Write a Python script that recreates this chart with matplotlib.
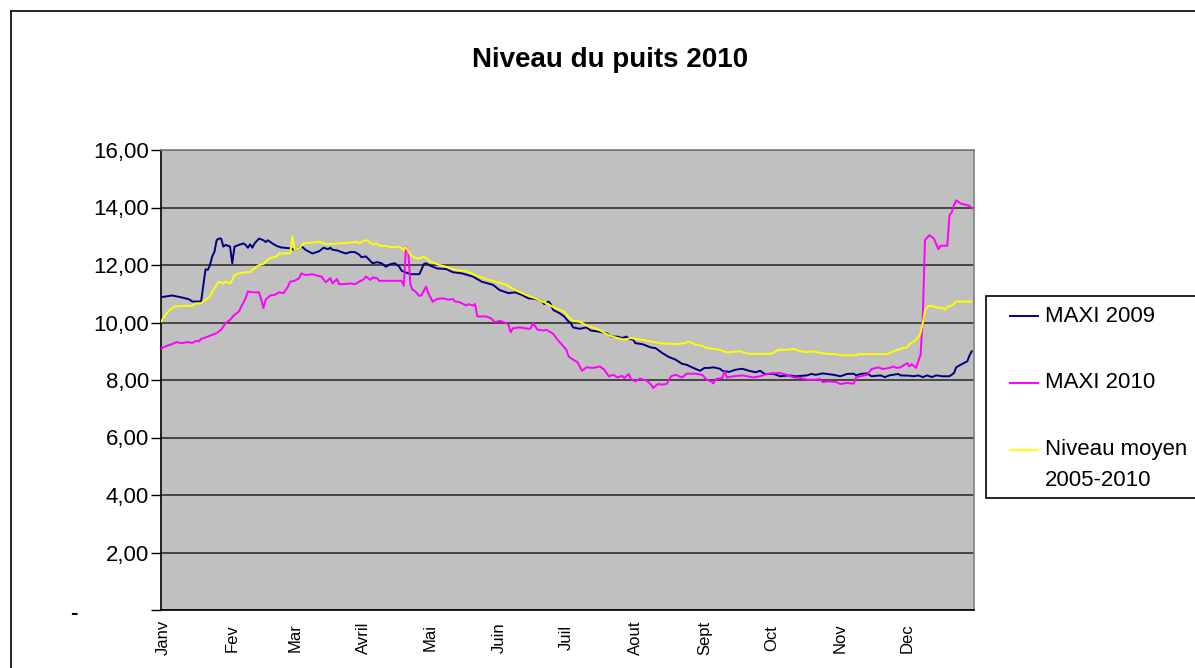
import matplotlib
matplotlib.use("Agg")
import matplotlib.pyplot as plt
from matplotlib.lines import Line2D
from matplotlib.patches import Rectangle
from matplotlib.transforms import blended_transform_factory
from matplotlib import font_manager

plt.rcParams['font.family'] = ['Liberation Sans', 'DejaVu Sans']
_names = {f.name for f in font_manager.fontManager.ttflist}
narrow = ['Liberation Sans Narrow', 'Liberation Sans'] if 'Liberation Sans Narrow' in _names else ['Liberation Sans']
narrow_ok = 'Liberation Sans Narrow' in _names

title = "Niveau du puits 2010"
month_labels = ["Janv", "Fev", "Mar", "Avril", "Mai", "Juin", "Juil", "Aout", "Sept", "Oct", "Nov", "Dec"]
month_days = [1, 32, 60, 91, 121, 152, 182, 213, 244, 274, 305, 335]
y_ticks = [0, 2, 4, 6, 8, 10, 12, 14, 16]
y_tick_labels = ["", "2,00", "4,00", "6,00", "8,00", "10,00", "12,00", "14,00", "16,00"]

series_names = ["MAXI 2009", "MAXI 2010", "Niveau moyen\n2005-2010"]

maxi2009_days = [0, 5, 10, 12, 13, 14, 18, 20, 21, 22, 23, 24, 25, 26, 27, 28, 29, 31, 32, 33, 35, 37, 38, 39, 40,
                 41, 42, 44, 46, 47, 48, 50, 52, 54, 58, 60, 62, 63, 65, 68, 71, 73, 75, 76, 77, 79, 81, 83, 85, 87,
                 89, 90, 92, 94, 95, 97, 99, 101, 103, 105, 107, 108, 110, 112, 116, 118, 119, 121, 124, 128, 131,
                 135, 140, 144, 149, 152, 156, 159, 162, 165, 168, 171, 172, 174, 175, 176, 179, 181, 183, 184, 185,
                 188, 191, 193, 196, 200, 202, 205, 207, 209, 210, 212, 213, 216, 220, 222, 225, 228, 231, 234, 236,
                 239, 242, 244, 246, 248, 251, 252, 255, 258, 261, 264, 267, 269, 271, 275, 278, 282, 285, 290, 292,
                 294, 297, 302, 305, 308, 311, 312, 314, 317, 319, 323, 325, 327, 331, 332, 336, 338, 340, 342, 344,
                 346, 348, 351, 354, 356, 357, 359, 362, 363, 364]
maxi2009_vals = [10.88, 10.94, 10.86, 10.82, 10.79, 10.73, 10.73, 11.85, 11.83, 12.00, 12.30, 12.46, 12.87, 12.92,
                 12.92, 12.64, 12.70, 12.64, 12.06, 12.64, 12.70, 12.75, 12.70, 12.60, 12.72, 12.60, 12.75, 12.92,
                 12.86, 12.80, 12.86, 12.75, 12.66, 12.61, 12.58, 12.52, 12.58, 12.66, 12.52, 12.40, 12.48, 12.60,
                 12.55, 12.60, 12.53, 12.51, 12.45, 12.40, 12.45, 12.45, 12.36, 12.27, 12.30, 12.14, 12.06, 12.10,
                 12.06, 11.94, 12.03, 12.06, 11.94, 11.80, 11.74, 11.68, 11.68, 12.03, 12.06, 11.97, 11.88, 11.86,
                 11.75, 11.71, 11.60, 11.42, 11.31, 11.13, 11.02, 11.05, 10.96, 10.84, 10.82, 10.75, 10.64, 10.73,
                 10.64, 10.44, 10.32, 10.21, 10.03, 9.98, 9.83, 9.78, 9.83, 9.72, 9.69, 9.63, 9.51, 9.51, 9.46,
                 9.51, 9.43, 9.40, 9.28, 9.25, 9.13, 9.11, 8.94, 8.80, 8.71, 8.56, 8.53, 8.42, 8.32, 8.42, 8.42,
                 8.44, 8.39, 8.32, 8.28, 8.36, 8.39, 8.32, 8.27, 8.32, 8.21, 8.21, 8.13, 8.16, 8.13, 8.16, 8.21,
                 8.18, 8.23, 8.18, 8.13, 8.21, 8.22, 8.16, 8.21, 8.23, 8.13, 8.16, 8.10, 8.16, 8.21, 8.16, 8.15,
                 8.13, 8.16, 8.10, 8.16, 8.10, 8.16, 8.13, 8.13, 8.24, 8.44, 8.53, 8.65, 8.86, 9.00]

maxi2010_days = [0, 2, 5, 7, 9, 12, 14, 16, 17, 18, 20, 23, 25, 27, 29, 31, 33, 35, 36, 38, 39, 41, 44, 45, 46,
                 47, 49, 51, 53, 55, 56, 57, 58, 60, 62, 63, 65, 68, 70, 72, 74, 76, 77, 79, 80, 83, 85, 87, 89,
                 91, 92, 94, 95, 97, 98, 108, 109, 110, 111, 112, 113, 114, 116, 117, 119, 120, 122, 124, 127, 129,
                 131, 132, 134, 137, 138, 140, 141, 142, 144, 146, 148, 150, 152, 155, 156, 157, 158, 161, 165, 166,
                 167, 169, 172, 173, 176, 178, 180, 182, 183, 184, 185, 187, 189, 191, 194, 197, 199, 201, 203, 205,
                 207, 208, 210, 211, 213, 215, 218, 220, 221, 223, 225, 227, 229, 231, 234, 236, 240, 243, 245, 247,
                 248, 249, 252, 253, 254, 257, 261, 266, 269, 272, 275, 278, 281, 284, 287, 290, 293, 296, 297, 300,
                 303, 305, 308, 311, 312, 314, 317, 319, 322, 324, 327, 329, 330, 332, 335, 336, 337, 339, 341, 342,
                 343, 345, 347, 349, 350, 353, 354, 355, 356, 357, 359, 362, 363, 364]
maxi2010_vals = [9.08, 9.17, 9.25, 9.32, 9.28, 9.32, 9.29, 9.36, 9.34, 9.43, 9.48, 9.57, 9.63, 9.75, 9.98, 10.09,
                 10.27, 10.38, 10.55, 10.84, 11.08, 11.05, 11.05, 10.79, 10.50, 10.79, 10.94, 10.96, 11.05, 11.02,
                 11.13, 11.25, 11.42, 11.45, 11.54, 11.71, 11.65, 11.68, 11.63, 11.60, 11.40, 11.54, 11.36, 11.51,
                 11.33, 11.34, 11.36, 11.33, 11.42, 11.50, 11.60, 11.48, 11.57, 11.54, 11.45, 11.45, 11.28, 12.64,
                 12.46, 11.31, 11.13, 11.10, 10.92, 10.96, 11.25, 11.02, 10.72, 10.82, 10.84, 10.79, 10.82, 10.73,
                 10.71, 10.59, 10.64, 10.59, 10.64, 10.21, 10.21, 10.21, 10.15, 10.01, 10.06, 9.98, 9.92, 9.66,
                 9.80, 9.83, 9.78, 9.80, 9.98, 9.75, 9.72, 9.75, 9.61, 9.40, 9.23, 9.05, 8.82, 8.76, 8.71, 8.62,
                 8.32, 8.44, 8.42, 8.47, 8.36, 8.13, 8.18, 8.09, 8.15, 8.07, 8.21, 8.03, 7.95, 8.05, 7.98, 7.84,
                 7.72, 7.86, 7.84, 7.86, 8.13, 8.18, 8.09, 8.22, 8.22, 8.18, 8.01, 7.95, 7.88, 8.03, 8.07, 8.30,
                 8.09, 8.13, 8.16, 8.09, 8.13, 8.21, 8.24, 8.24, 8.18, 8.09, 8.07, 8.01, 8.01, 8.03, 7.93, 7.95,
                 7.93, 7.86, 7.90, 7.87, 8.09, 8.13, 8.18, 8.38, 8.44, 8.38, 8.42, 8.47, 8.42, 8.44, 8.59, 8.47,
                 8.55, 8.42, 8.88, 10.15, 12.87, 13.04, 12.92, 12.55, 12.67, 12.67, 13.73, 13.83, 14.08, 14.25,
                 14.14, 14.08, 14.06, 13.97]

moyen_days = [0, 2, 4, 6, 10, 14, 15, 18, 20, 22, 23, 25, 26, 28, 29, 31, 32, 33, 35, 38, 40, 41, 44, 46, 47, 49,
              52, 53, 56, 58, 59, 60, 62, 64, 69, 71, 74, 80, 86, 88, 89, 92, 93, 95, 97, 98, 101, 104, 107, 108,
              109, 110, 112, 114, 116, 118, 121, 123, 125, 128, 132, 137, 141, 146, 150, 155, 159, 164, 168, 173,
              177, 181, 183, 185, 188, 192, 195, 198, 201, 204, 208, 211, 213, 216, 220, 224, 228, 232, 235, 237,
              240, 243, 245, 248, 251, 254, 260, 264, 274, 277, 281, 284, 287, 290, 293, 296, 299, 303, 305, 312,
              313, 326, 327, 330, 333, 335, 336, 338, 340, 341, 342, 343, 345, 348, 351, 352, 353, 355, 357, 364]
moyen_vals = [10.03, 10.27, 10.44, 10.55, 10.58, 10.58, 10.65, 10.67, 10.79, 10.90, 11.08, 11.31, 11.42, 11.36,
              11.42, 11.36, 11.48, 11.65, 11.71, 11.75, 11.75, 11.83, 12.00, 12.03, 12.12, 12.25, 12.29, 12.40,
              12.40, 12.40, 12.98, 12.52, 12.58, 12.75, 12.79, 12.81, 12.72, 12.75, 12.79, 12.81, 12.75, 12.87,
              12.83, 12.72, 12.75, 12.67, 12.66, 12.61, 12.64, 12.58, 12.52, 12.62, 12.35, 12.25, 12.23, 12.29,
              12.12, 12.06, 12.00, 11.94, 11.83, 11.79, 11.65, 11.51, 11.42, 11.31, 11.13, 10.96, 10.84, 10.67,
              10.50, 10.38, 10.18, 10.06, 10.03, 9.86, 9.80, 9.69, 9.55, 9.48, 9.40, 9.46, 9.43, 9.40, 9.34, 9.28,
              9.26, 9.25, 9.28, 9.34, 9.23, 9.19, 9.12, 9.08, 9.05, 8.96, 9.00, 8.91, 8.91, 9.05, 9.05, 9.08, 9.00,
              8.97, 9.00, 8.94, 8.91, 8.90, 8.86, 8.86, 8.90, 8.90, 8.94, 9.03, 9.11, 9.13, 9.25, 9.34, 9.48, 9.63,
              9.98, 10.44, 10.59, 10.53, 10.50, 10.44, 10.55, 10.59, 10.73, 10.73]

colors = ["#000080", "#FF00FF", "#FFFF00"]

W, H = 1195, 668
fig = plt.figure(figsize=(W / 100, H / 100), dpi=100)
fig.patch.set_facecolor("white")

ax = fig.add_axes([161 / W, 1 - 610 / H, 813 / W, 460 / H])
ax.set_facecolor("#C0C0C0")

lines = []
for d, v, c in zip([maxi2009_days, maxi2010_days, moyen_days],
                   [maxi2009_vals, maxi2010_vals, moyen_vals], colors):
    ln, = ax.plot(d, v, color=c, lw=1.4, solid_joinstyle="round", zorder=3)
    lines.append(ln)

ysize = 18 if narrow_ok else 16
xsize = 14 if narrow_ok else 12

ax.set_xlim(0, 365)
ax.set_ylim(0, 16)
ax.set_yticks(y_ticks)
ax.set_yticklabels(y_tick_labels, fontsize=ysize, family=narrow)
ax.set_xticks(month_days)
ax.set_xticklabels(month_labels, rotation=90, fontsize=xsize, va="center", family=narrow)
ax.tick_params(axis="x", length=0, pad=20)
ax.tick_params(axis="y", length=7, width=1, pad=1.5, direction="out", color="black")
ax.grid(axis="y", color="#303030", lw=1.2, zorder=1)
ax.set_axisbelow(True)
for s in ["top", "right"]:
    ax.spines[s].set_color("#808080")
    ax.spines[s].set_linewidth(1.2)
for s in ["left", "bottom"]:
    ax.spines[s].set_color("black")
    ax.spines[s].set_linewidth(1.2)

# "-" label for zero (accounting format, left aligned)
ax.text(-0.112, -0.12, "-", transform=blended_transform_factory(ax.transAxes, ax.transData),
        ha="left", va="center", fontsize=ysize, family=narrow, fontweight="bold")

fig.text(610 / W, 1 - 60 / H, title, ha="center", va="center", fontsize=20, fontweight="bold")

# outer chart border
fig.add_artist(Line2D([11 / W, 1.0], [1 - 11 / H, 1 - 11 / H], color="black", lw=1.2))
fig.add_artist(Line2D([11 / W, 11 / W], [1 - 11 / H, 0], color="black", lw=1.2))

# legend box
fig.add_artist(Rectangle((986 / W, 1 - 498 / H), 260 / W, 202 / H, transform=fig.transFigure,
                         facecolor="white", edgecolor="black", lw=1.2))
entry_y = [316, 383, 450]
for ln, name, yy in zip(lines, series_names, entry_y):
    fig.add_artist(Line2D([1010 / W, 1038 / W], [1 - yy / H, 1 - yy / H], color=ln.get_color(), lw=1.4))
    parts = name.split("\n")
    for k, p in enumerate(parts):
        fig.text(1045 / W, 1 - (yy + k * 31) / H, p, ha="left", va="center", fontsize=16)

fig.savefig("out.png", dpi=100)
